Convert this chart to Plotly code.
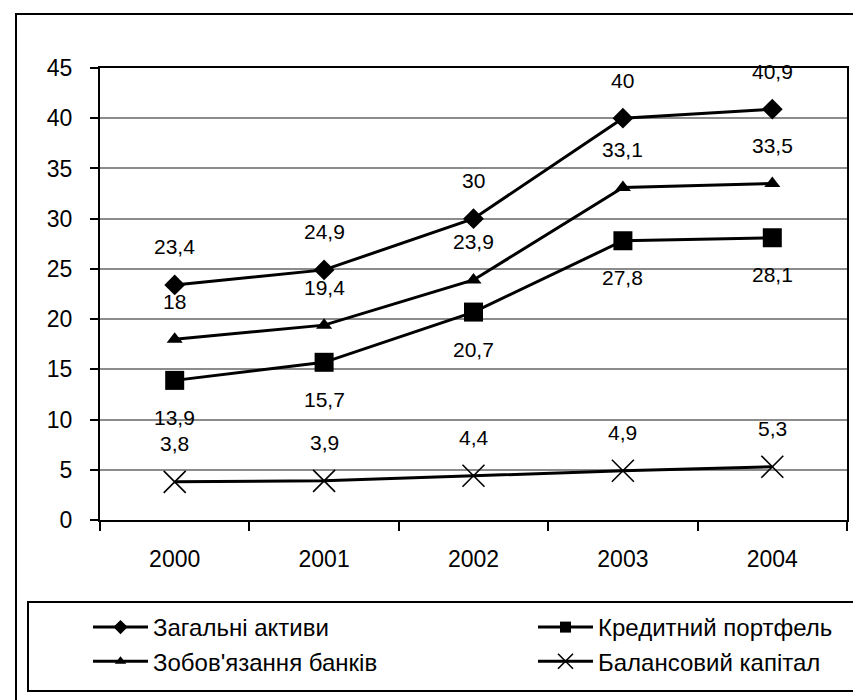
import plotly.graph_objects as go

# ---- data ----
years = ["2000", "2001", "2002", "2003", "2004"]
total_assets = [23.4, 24.9, 30, 40, 40.9]          # Загальні активи
credit_portfolio = [13.9, 15.7, 20.7, 27.8, 28.1]  # Кредитний портфель
bank_liabilities = [18, 19.4, 23.9, 33.1, 33.5]    # Зобов'язання банків
balance_capital = [3.8, 3.9, 4.4, 4.9, 5.3]        # Балансовий капітал
series_names = ["Загальні активи", "Кредитний портфель",
                "Зобов'язання банків", "Балансовий капітал"]
y_tick_values = [0, 5, 10, 15, 20, 25, 30, 35, 40, 45]

# ---- layout geometry (pixels) ----
W, H = 861, 700
L, R, T, B = 92, 839, 60, 512
FONT = "Liberation Sans, Arial, sans-serif"


def px_x(p):
    return (p - L) / (R - L)


def px_y(p):
    return (B - p) / (B - T)


fig = go.Figure()

styles = [
    dict(values=total_assets, symbol="diamond", size=16, lsize=11, legend="legend", shift=38),
    dict(values=credit_portfolio, symbol="square", size=19, lsize=11, legend="legend2", shift=-37),
    dict(values=bank_liabilities, symbol="triangle-up", size=14, lsize=10, legend="legend", shift=38),
    dict(values=balance_capital, symbol="x-thin", size=22, lsize=15, legend="legend2", shift=38),
]

for name, st in zip(series_names, styles):
    marker = dict(symbol=st["symbol"], size=st["size"], color="black")
    lmarker = dict(symbol=st["symbol"], size=st["lsize"], color="black")
    if st["symbol"] == "x-thin":
        marker["line"] = dict(width=1.6, color="black")
        lmarker["line"] = dict(width=1.6, color="black")
    fig.add_trace(go.Scatter(
        x=years, y=st["values"], name=name, mode="lines+markers",
        line=dict(color="black", width=3), marker=marker,
        showlegend=False, cliponaxis=False,
    ))
    # legend-only entry (smaller marker, as in the original legend)
    fig.add_trace(go.Scatter(
        x=[None], y=[None], name=name, mode="lines+markers",
        line=dict(color="black", width=3), marker=lmarker,
        legend=st["legend"], showlegend=True,
    ))
    for i, v in enumerate(st["values"]):
        fig.add_annotation(
            x=i, y=v, xref="x", yref="y", yshift=st["shift"],
            text=(("%g" % v).replace(".", ",")), showarrow=False,
            font=dict(family=FONT, size=21, color="black"),
        )

# outer chart border (right and bottom edges fall outside the picture)
fig.add_shape(type="rect", xref="paper", yref="paper",
              x0=px_x(8), x1=px_x(880), y0=px_y(712), y1=px_y(6),
              line=dict(color="black", width=2), layer="below")
# legend box (right edge falls outside the picture)
fig.add_shape(type="rect", xref="paper", yref="paper",
              x0=px_x(20), x1=px_x(872), y0=px_y(683), y1=px_y(594),
              line=dict(color="black", width=2), layer="below")

legend_common = dict(
    orientation="v", bgcolor="rgba(0,0,0,0)", borderwidth=0,
    font=dict(family=FONT, size=24, color="black"),
    itemwidth=55, xanchor="left", yanchor="top", tracegroupgap=0,
    itemclick=False, itemdoubleclick=False,
)

fig.update_layout(
    width=W, height=H, autosize=False,
    margin=dict(l=L, r=W - R, t=T, b=H - B, pad=0),
    paper_bgcolor="white", plot_bgcolor="white",
    font=dict(family=FONT, size=23, color="black"),
    showlegend=True,
    legend=dict(x=px_x(80), y=px_y(597), **legend_common),
    legend2=dict(x=px_x(525), y=px_y(597), **legend_common),
    xaxis=dict(
        type="category", categoryorder="array", categoryarray=years,
        range=[-0.5, len(years) - 0.5],
        tickson="boundaries", ticks="outside", ticklen=9, tickwidth=2,
        tickcolor="black", showline=True, linecolor="black", linewidth=2,
        mirror=True, showgrid=False, zeroline=False,
        tickfont=dict(family=FONT, size=23, color="black"),
        ticklabelstandoff=17,
    ),
    yaxis=dict(
        range=[0, 45], tickvals=y_tick_values, ticks="outside", ticklen=8,
        tickwidth=2, tickcolor="black", showline=True, linecolor="black",
        linewidth=2, mirror=True, showgrid=True, gridcolor="#8c8c8c",
        gridwidth=1.5, zeroline=False,
        tickfont=dict(family=FONT, size=23, color="black"),
        ticklabelstandoff=13,
    ),
)

fig.write_html("out.html")
